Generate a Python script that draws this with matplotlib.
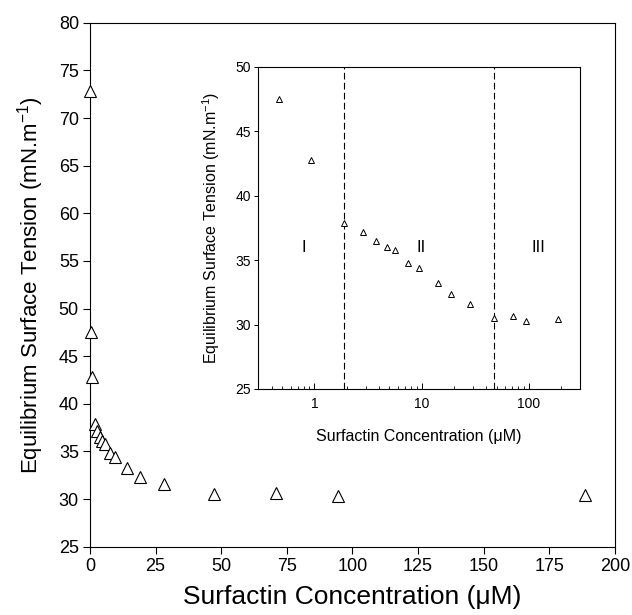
import matplotlib
matplotlib.use("Agg")
import matplotlib.pyplot as plt
from matplotlib.ticker import LogLocator, NullFormatter, FixedLocator

plt.rcParams['font.family'] = ['Liberation Sans', 'DejaVu Sans']
plt.rcParams['mathtext.fontset'] = 'custom'
plt.rcParams['mathtext.rm'] = 'Liberation Sans'

# Data
conc_main = [0, 0.47, 0.94, 1.88, 2.83, 3.77, 4.71, 5.66, 7.54, 9.43, 14.1, 18.9, 28.3, 47.1, 70.7, 94.3, 188.6]
tension_main = [72.8, 47.5, 42.8, 37.9, 37.15, 36.5, 36.05, 35.8, 34.8, 34.4, 33.25, 32.35, 31.6, 30.5, 30.65, 30.3, 30.4]
conc_inset = conc_main[1:]
tension_inset = tension_main[1:]
region_bounds = [1.88, 47.1]
region_labels = ['I', 'II', 'III']
region_label_x = [0.80, 9.95, 124]
region_label_y = 36.0

main_xticks = [0, 25, 50, 75, 100, 125, 150, 175, 200]
main_yticks = [25, 30, 35, 40, 45, 50, 55, 60, 65, 70, 75, 80]
inset_yticks = [25, 30, 35, 40, 45, 50]

fig = plt.figure(figsize=(6.32, 6.15), dpi=100)
ax = fig.add_axes([0.1424, 0.111, 0.9731 - 0.1424, 0.963 - 0.111])
ax.plot(conc_main, tension_main, linestyle='none', marker='^', ms=8,
        mfc='white', mec='black', mew=0.8, clip_on=False, zorder=3)
ax.set_xlim(0, 200)
ax.set_ylim(25, 80)
ax.set_xticks(main_xticks)
ax.set_yticks(main_yticks)
ax.tick_params(direction='out', length=5, width=0.8, labelsize=13, pad=3)
ax.set_xlabel('Surfactin Concentration (\u03bcM)', fontsize=19, labelpad=7)
ax.set_ylabel('Equilibrium Surface Tension (mN.m$^{-1}$)', fontsize=16, labelpad=9)
for s in ax.spines.values():
    s.set_linewidth(0.8)

# Inset
axi = fig.add_axes([0.4087, 0.3675, 0.9177 - 0.4087, 0.8915 - 0.3675])
axi.plot(conc_inset, tension_inset, linestyle='none', marker='^', ms=5,
         mfc='white', mec='black', mew=0.7, zorder=3)
axi.set_xscale('log')
axi.set_xlim(0.3, 300)
axi.set_ylim(25, 50)
axi.set_yticks(inset_yticks)
axi.xaxis.set_major_locator(FixedLocator([1, 10, 100]))
axi.set_xticklabels(['1', '10', '100'])
axi.xaxis.set_minor_locator(LogLocator(base=10, subs=range(2, 10), numticks=20))
axi.xaxis.set_minor_formatter(NullFormatter())
axi.tick_params(axis='x', which='major', direction='in', length=4, width=0.7, labelsize=10, pad=6)
axi.tick_params(axis='x', which='minor', direction='in', length=2.5, width=0.6)
axi.tick_params(axis='y', direction='out', length=3, width=0.7, labelsize=10, pad=2)
for b in region_bounds:
    axi.axvline(b, color='black', linestyle=(0, (6, 3)), linewidth=0.8)
for lx, lab in zip(region_label_x, region_labels):
    axi.text(lx, region_label_y, lab, fontsize=12, ha='center', va='center')
axi.set_xlabel('Surfactin Concentration (\u03bcM)', fontsize=11.5, labelpad=13)
axi.set_ylabel('Equilibrium Surface Tension (mN.m$^{-1}$)', fontsize=11.5, labelpad=10)
for s in axi.spines.values():
    s.set_linewidth(0.8)

fig.savefig('out.png', dpi=100)
